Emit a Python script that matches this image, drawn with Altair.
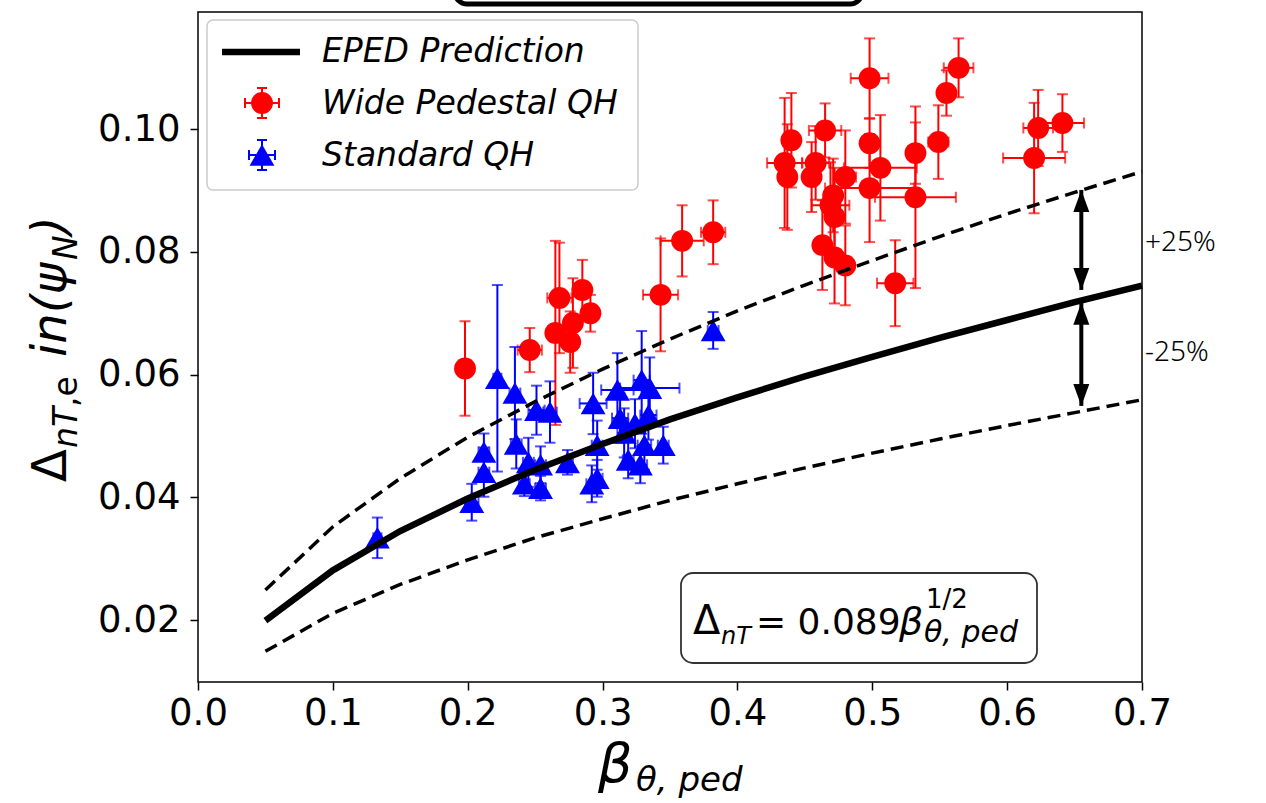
import altair as alt
import pandas as pd

# ---- EPED prediction curve ----
eped_beta = [0.05, 0.10, 0.15, 0.20, 0.25, 0.30, 0.35, 0.40, 0.45, 0.50, 0.55, 0.60, 0.65, 0.70]
eped_delta = [0.0199, 0.0281, 0.0345, 0.0398, 0.0445, 0.0487, 0.0527, 0.0563, 0.0597, 0.0629, 0.0660, 0.0689, 0.0718, 0.0745]
eped_upper = [0.0249, 0.0352, 0.0431, 0.0498, 0.0556, 0.0609, 0.0658, 0.0704, 0.0746, 0.0786, 0.0825, 0.0862, 0.0897, 0.0931]
eped_lower = [0.0149, 0.0211, 0.0258, 0.0298, 0.0334, 0.0365, 0.0395, 0.0422, 0.0448, 0.0472, 0.0495, 0.0517, 0.0538, 0.0559]

# ---- Wide Pedestal QH ----
wide_beta = [0.198, 0.246, 0.268, 0.285, 0.265, 0.278, 0.276, 0.291, 0.343, 0.359, 0.382,
             0.498, 0.440, 0.465, 0.435, 0.437, 0.458, 0.455, 0.480, 0.498, 0.506, 0.498,
             0.471, 0.469, 0.472, 0.463, 0.472, 0.480, 0.517, 0.532, 0.532, 0.549, 0.555,
             0.564, 0.623, 0.641, 0.620]
wide_delta = [0.0610, 0.0640, 0.0725, 0.0738, 0.0668, 0.0684, 0.0653, 0.0700, 0.0730, 0.0818, 0.0832,
              0.1083, 0.0982, 0.0998, 0.0945, 0.0922, 0.0945, 0.0922, 0.0922, 0.0977, 0.0937, 0.0904,
              0.0892, 0.0876, 0.0857, 0.0811, 0.0791, 0.0778, 0.0749, 0.0889, 0.0961, 0.0979, 0.1059,
              0.1100, 0.1002, 0.1010, 0.0953]
wide_beta_err = [0.002, 0.009, 0.009, 0.006, 0.004, 0.005, 0.004, 0.004, 0.013, 0.016, 0.009,
                 0.014, 0.005, 0.012, 0.013, 0.006, 0.010, 0.006, 0.008, 0.005, 0.027, 0.033,
                 0.006, 0.014, 0.006, 0.006, 0.006, 0.006, 0.0135, 0.030, 0.006, 0.0075, 0.005,
                 0.011, 0.011, 0.016, 0.023]
wide_delta_err = [0.0077, 0.0036, 0.0090, 0.0049, 0.0150, 0.0073, 0.0050, 0.0030, 0.0092, 0.0058, 0.0052,
                  0.0065, 0.0077, 0.0044, 0.0106, 0.0086, 0.0060, 0.0057, 0.0076, 0.0040, 0.0086, 0.0088,
                  0.0060, 0.0070, 0.0080, 0.0073, 0.0075, 0.0065, 0.0070, 0.0148, 0.0050, 0.0060, 0.0037,
                  0.0048, 0.0062, 0.0047, 0.0090]

# ---- Standard QH ----
std_beta = [0.133, 0.203, 0.212, 0.212, 0.222, 0.235, 0.236, 0.245, 0.242, 0.254, 0.251, 0.261,
            0.254, 0.274, 0.293, 0.296, 0.296, 0.292, 0.311, 0.313, 0.316, 0.319, 0.328, 0.329,
            0.335, 0.331, 0.345, 0.382, 0.334, 0.324]
std_delta = [0.0334, 0.0392, 0.0441, 0.0474, 0.0594, 0.0570, 0.0487, 0.0457, 0.0422, 0.0453, 0.0542, 0.0539,
             0.0415, 0.0457, 0.0553, 0.0485, 0.0431, 0.0422, 0.0575, 0.0529, 0.0505, 0.0461, 0.0453, 0.0591,
             0.0578, 0.0485, 0.0485, 0.0672, 0.0534, 0.0520]
std_beta_err = [0.003, 0.005, 0.004, 0.004, 0.003, 0.004, 0.004, 0.004, 0.004, 0.004, 0.006, 0.005,
                0.004, 0.004, 0.010, 0.004, 0.004, 0.004, 0.012, 0.006, 0.005, 0.004, 0.005, 0.006,
                0.022, 0.005, 0.004, 0.004, 0.006, 0.005]
std_delta_err = [0.0033, 0.0030, 0.0040, 0.0030, 0.0152, 0.0075, 0.0040, 0.0040, 0.0020, 0.0030, 0.0040, 0.0050,
                 0.0020, 0.0020, 0.0050, 0.0040, 0.0030, 0.0030, 0.0060, 0.0040, 0.0040, 0.0030, 0.0030, 0.0080,
                 0.0050, 0.0040, 0.0030, 0.0030, 0.0040, 0.0040]

# ---- arrows (+/-25%) ----
arrow_beta = [0.655, 0.655]
arrow_top = [0.0901, 0.0717]
arrow_bottom = [0.0738, 0.0549]

x_ticks = [0.0, 0.1, 0.2, 0.3, 0.4, 0.5, 0.6, 0.7]
y_ticks = [0.02, 0.04, 0.06, 0.08, 0.10]

FONT = "DejaVu Sans"
xs = alt.Scale(domain=[0, 0.7], nice=False, zero=False)
ys = alt.Scale(domain=[0.0099, 0.1191], nice=False, zero=False)
xaxis = alt.Axis(values=x_ticks, format=".1f", title=None, grid=False, domain=False,
                 labelFontSize=37, labelFont=FONT, labelColor="black", tickColor="black",
                 tickSize=8, tickWidth=1.5, labelPadding=5, labelFlush=False)
yaxis = alt.Axis(values=y_ticks, format=".2f", title=None, grid=False, domain=False,
                 labelFontSize=37, labelFont=FONT, labelColor="black", tickColor="black",
                 tickSize=8, tickWidth=1.5, labelPadding=10, labelFlush=False)


def X(f):
    return alt.X(f, type="quantitative", scale=xs, axis=xaxis)


def Y(f):
    return alt.Y(f, type="quantitative", scale=ys, axis=yaxis)


curve = pd.DataFrame({"b": eped_beta, "d": eped_delta, "u": eped_upper, "l": eped_lower})


def group(beta, delta, berr, derr, color, shape, size):
    df = pd.DataFrame({"x": beta, "y": delta, "xe": berr, "ye": derr})
    df["xlo"] = df.x - df.xe
    df["xhi"] = df.x + df.xe
    df["ylo"] = df.y - df.ye
    df["yhi"] = df.y + df.ye
    base = alt.Chart(df)
    sw = 2
    cap = 11
    layers = [
        base.mark_rule(color=color, strokeWidth=sw).encode(x=X("x"), y=Y("ylo"), y2="yhi"),
        base.mark_rule(color=color, strokeWidth=sw).encode(x=X("xlo"), x2="xhi", y=Y("y")),
        base.mark_tick(color=color, orient="horizontal", size=cap, thickness=sw).encode(x=X("x"), y=Y("ylo")),
        base.mark_tick(color=color, orient="horizontal", size=cap, thickness=sw).encode(x=X("x"), y=Y("yhi")),
        base.mark_tick(color=color, orient="vertical", size=cap, thickness=sw).encode(x=X("xlo"), y=Y("y")),
        base.mark_tick(color=color, orient="vertical", size=cap, thickness=sw).encode(x=X("xhi"), y=Y("y")),
        base.mark_point(shape=shape, filled=True, color=color, opacity=1, size=size).encode(x=X("x"), y=Y("y")),
    ]
    return layers


red = group(wide_beta, wide_delta, wide_beta_err, wide_delta_err, "#ff0000", "circle", 480)
blue = group(std_beta, std_delta, std_beta_err, std_delta_err, "#0000ff", "triangle-up", 620)

cbase = alt.Chart(curve)
lines = [
    cbase.mark_line(color="black", strokeWidth=3.5, strokeDash=[13, 7]).encode(x=X("b"), y=Y("u")),
    cbase.mark_line(color="black", strokeWidth=3.5, strokeDash=[13, 7]).encode(x=X("b"), y=Y("l")),
    cbase.mark_line(color="black", strokeWidth=6.5).encode(x=X("b"), y=Y("d")),
]

arr = pd.DataFrame({"x": arrow_beta, "t": arrow_top, "b": arrow_bottom})
abase = alt.Chart(arr)
up_head = "M0,0L-0.8,2.2L0.8,2.2Z"
down_head = "M0,0L-0.8,-2.2L0.8,-2.2Z"
arrows = [
    abase.mark_rule(color="black", strokeWidth=4).encode(x=X("x"), y=Y("t"), y2="b"),
    abase.mark_point(shape=up_head, filled=True, color="black", opacity=1, size=400).encode(x=X("x"), y=Y("t")),
    abase.mark_point(shape=down_head, filled=True, color="black", opacity=1, size=400).encode(x=X("x"), y=Y("b")),
]

one = pd.DataFrame({"k": [0]})


def txt(s, x, y, size, italic=False, angle=0, align="left", baseline="alphabetic", font=FONT, weight="normal"):
    return alt.Chart(one).mark_text(text=s, fontSize=size, fontStyle="italic" if italic else "normal",
                                    angle=angle, align=align, baseline=baseline, font=font,
                                    fontWeight=weight, color="black").encode(x=alt.value(x), y=alt.value(y))


def vrule(x, y1, y2, color, w):
    return alt.Chart(one).mark_rule(color=color, strokeWidth=w).encode(x=alt.value(x), y=alt.value(y1), y2=alt.value(y2))


def hrule(x1, x2, y, color, w):
    return alt.Chart(one).mark_rule(color=color, strokeWidth=w).encode(x=alt.value(x1), x2=alt.value(x2), y=alt.value(y))


def box(x1, y1, x2, y2, stroke, sw, radius, fill="white", fo=1.0):
    return alt.Chart(one).mark_rect(fill=fill, fillOpacity=fo, stroke=stroke, strokeWidth=sw, cornerRadius=radius).encode(
        x=alt.value(x1), x2=alt.value(x2), y=alt.value(y1), y2=alt.value(y2))


def sym(x, y, shape, color, size):
    return alt.Chart(one).mark_point(shape=shape, filled=True, color=color, opacity=1, size=size).encode(
        x=alt.value(x), y=alt.value(y))


def errglyph(cx, cy, color, vh, hh):
    out = [vrule(cx, cy - vh, cy + vh, color, 2), hrule(cx - hh, cx + hh, cy, color, 2),
           hrule(cx - 5, cx + 5, cy - vh, color, 2), hrule(cx - 5, cx + 5, cy + vh, color, 2),
           vrule(cx - hh, cy - 5, cy + 5, color, 2), vrule(cx + hh, cy - 5, cy + 5, color, 2)]
    return out


# legend
legend = [box(9, 8, 440, 178, "#cccccc", 1.5, 6, fo=0.85),
          hrule(24, 102, 40, "black", 6.5),
          txt("EPED Prediction", 124, 40, 33, italic=True, baseline="middle")]
legend += errglyph(64, 91, "#ff0000", 15, 17) + [sym(64, 91, "circle", "#ff0000", 480),
                                                  txt("Wide Pedestal QH", 124, 92, 33, italic=True, baseline="middle")]
legend += errglyph(64, 143, "#0000ff", 15, 13) + [sym(64, 143, "triangle-up", "#0000ff", 620),
                                                   txt("Standard QH", 124, 144, 33, italic=True, baseline="middle")]

# equation box
eq = [box(483, 561, 839, 651, "#333333", 1.8, 12),
      txt("Δ", 495, 622, 40),
      txt("nT", 523, 632, 24, italic=True),
      txt("= 0.089", 558, 622, 36),
      txt("β", 701, 622, 38, italic=True),
      txt("1/2", 728, 596, 26),
      txt("θ, ped", 726, 630, 30, italic=True)]

# percent labels
pct = [txt("+25%", 947, 231, 28, baseline="middle", font="Noto Sans", weight=300),
       txt("-25%", 947, 341, 28, baseline="middle", font="Noto Sans", weight=300)]

# axis titles
ytitle = [txt("Δ", -132, 470, 48, angle=270),
          txt("nT", -121, 436, 33, italic=True, angle=270),
          txt(",e", -121, 395, 33, angle=270),
          txt("in(ψ", -132, 345, 48, italic=True, angle=270),
          txt("N", -121, 248, 33, italic=True, angle=270),
          txt(")", -132, 223, 48, italic=True, angle=270)]
xtitle = [txt("β", 400, 770, 54, italic=True),
          txt("θ, ped", 438, 779, 34, italic=True)]

# top cut-off title frame
topbar = [box(257, -60, 664, -8, "black", 5, 12)]

chart = alt.layer(*(red + blue + lines + arrows + legend + eq + pct + ytitle + xtitle + topbar)).properties(
    width=944, height=670,
    padding={"left": 198, "top": 12, "right": 124, "bottom": 121},
    autosize=alt.AutoSizeParams(type="none"),
    background="white",
).configure_view(stroke="black", strokeWidth=1.5)

chart.save("out.html", embed_options={"renderer": "svg", "actions": False})
